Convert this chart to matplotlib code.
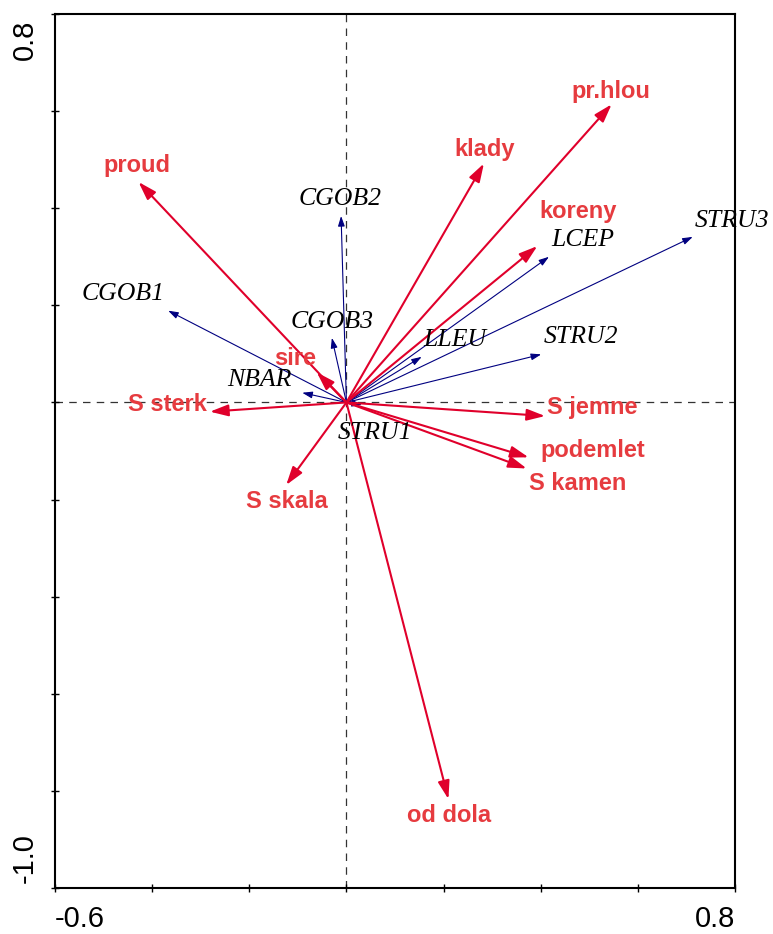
import matplotlib
matplotlib.use("Agg")
import matplotlib.pyplot as plt
from matplotlib.transforms import offset_copy

# environmental variables (red arrows): tip coordinates and label positions
ENV_NAMES = ["proud", "sire", "S sterk", "klady", "pr.hlou", "koreny",
             "S jemne", "podemlet", "S kamen", "S skala", "od dola"]
ENV_X = [-0.428, -0.061, -0.281, 0.283, 0.546, 0.393,
         0.409, 0.375, 0.371, -0.124, 0.210]
ENV_Y = [0.454, 0.062, -0.019, 0.492, 0.614, 0.322,
         -0.028, -0.113, -0.136, -0.170, -0.817]
ENV_LX = [-0.431, -0.106, -0.369, 0.284, 0.545, 0.477,
          0.506, 0.508, 0.476, -0.122, 0.212]
ENV_LY = [0.487, 0.090, -0.005, 0.520, 0.641, 0.394,
          -0.011, -0.100, -0.166, -0.203, -0.851]

# species (blue arrows)
SP_NAMES = ["CGOB1", "CGOB2", "CGOB3", "NBAR", "LCEP", "STRU3",
            "LLEU", "STRU2", "STRU1"]
SP_X = [-0.367, -0.011, -0.030, -0.091, 0.417, 0.713, 0.155, 0.401, 0.032]
SP_Y = [0.189, 0.384, 0.133, 0.020, 0.300, 0.341, 0.094, 0.099, -0.005]
SP_LX = [-0.460, -0.013, -0.029, -0.180, 0.487, 0.793, 0.224, 0.483, 0.059]
SP_LY = [0.223, 0.419, 0.165, 0.046, 0.334, 0.373, 0.128, 0.135, -0.063]

XLIM = (-0.6, 0.8)
YLIM = (-1.0, 0.8)

ARROW_RED = "#e0002b"
TEXT_RED = "#e63b3f"
ARROW_BLUE = "#000080"

fig = plt.figure(figsize=(7.73, 9.34), dpi=100)
ax = fig.add_axes([55 / 773, 1 - 888 / 934, 680 / 773, 874 / 934])
ax.set_xlim(*XLIM)
ax.set_ylim(*YLIM)

ax.axhline(0, color="#333333", lw=0.9, ls=(0, (6, 5)), zorder=0)
ax.axvline(0, color="#333333", lw=0.9, ls=(0, (6, 5)), zorder=0)

for x, y in zip(SP_X, SP_Y):
    ax.annotate("", xy=(x, y), xytext=(0, 0),
                arrowprops=dict(arrowstyle="-|>,head_length=0.6,head_width=0.2",
                                color=ARROW_BLUE, lw=0.8, shrinkA=0, shrinkB=0,
                                mutation_scale=10))
for x, y in zip(ENV_X, ENV_Y):
    ax.annotate("", xy=(x, y), xytext=(0, 0),
                arrowprops=dict(arrowstyle="-|>,head_length=1.1,head_width=0.35",
                                color=ARROW_RED, lw=1.5, shrinkA=0, shrinkB=0,
                                mutation_scale=10))

for name, lx, ly in zip(SP_NAMES, SP_LX, SP_LY):
    ax.text(lx, ly, name, ha="center", va="center", fontsize=18.5,
            family="Liberation Serif", style="italic", color="black",
            clip_on=False)
for name, lx, ly in zip(ENV_NAMES, ENV_LX, ENV_LY):
    ax.text(lx, ly, name, ha="center", va="center", fontsize=17,
            family="Liberation Sans", weight="bold", color=TEXT_RED)

for s in ax.spines.values():
    s.set_linewidth(1.5)

ticks = [round(-0.6 + 0.2 * i, 1) for i in range(8)]
yticks = [round(-1.0 + 0.2 * i, 1) for i in range(10)]
ax.set_xticks(ticks)
ax.set_yticks(yticks)
ax.set_xticklabels([])
ax.set_yticklabels([])
ax.tick_params(direction="inout", length=6, width=1)

# end labels only
lab = dict(fontsize=21, family="Liberation Sans", color="black")
tx = offset_copy(ax.transData, fig=fig, x=0, y=-17, units="dots")
ax.text(XLIM[0], YLIM[0], "-0.6", transform=tx, ha="left", va="top", **lab)
ax.text(XLIM[1], YLIM[0], "0.8", transform=tx, ha="right", va="top", **lab)
ty_top = offset_copy(ax.transData, fig=fig, x=-16, y=-6, units="dots")
ty_bot = offset_copy(ax.transData, fig=fig, x=-16, y=5, units="dots")
ax.text(XLIM[0], YLIM[1], "0.8", transform=ty_top, rotation=90,
        ha="right", va="top", **lab)
ax.text(XLIM[0], YLIM[0], "-1.0", transform=ty_bot, rotation=90,
        ha="right", va="bottom", **lab)

fig.savefig("out.png", dpi=100)
